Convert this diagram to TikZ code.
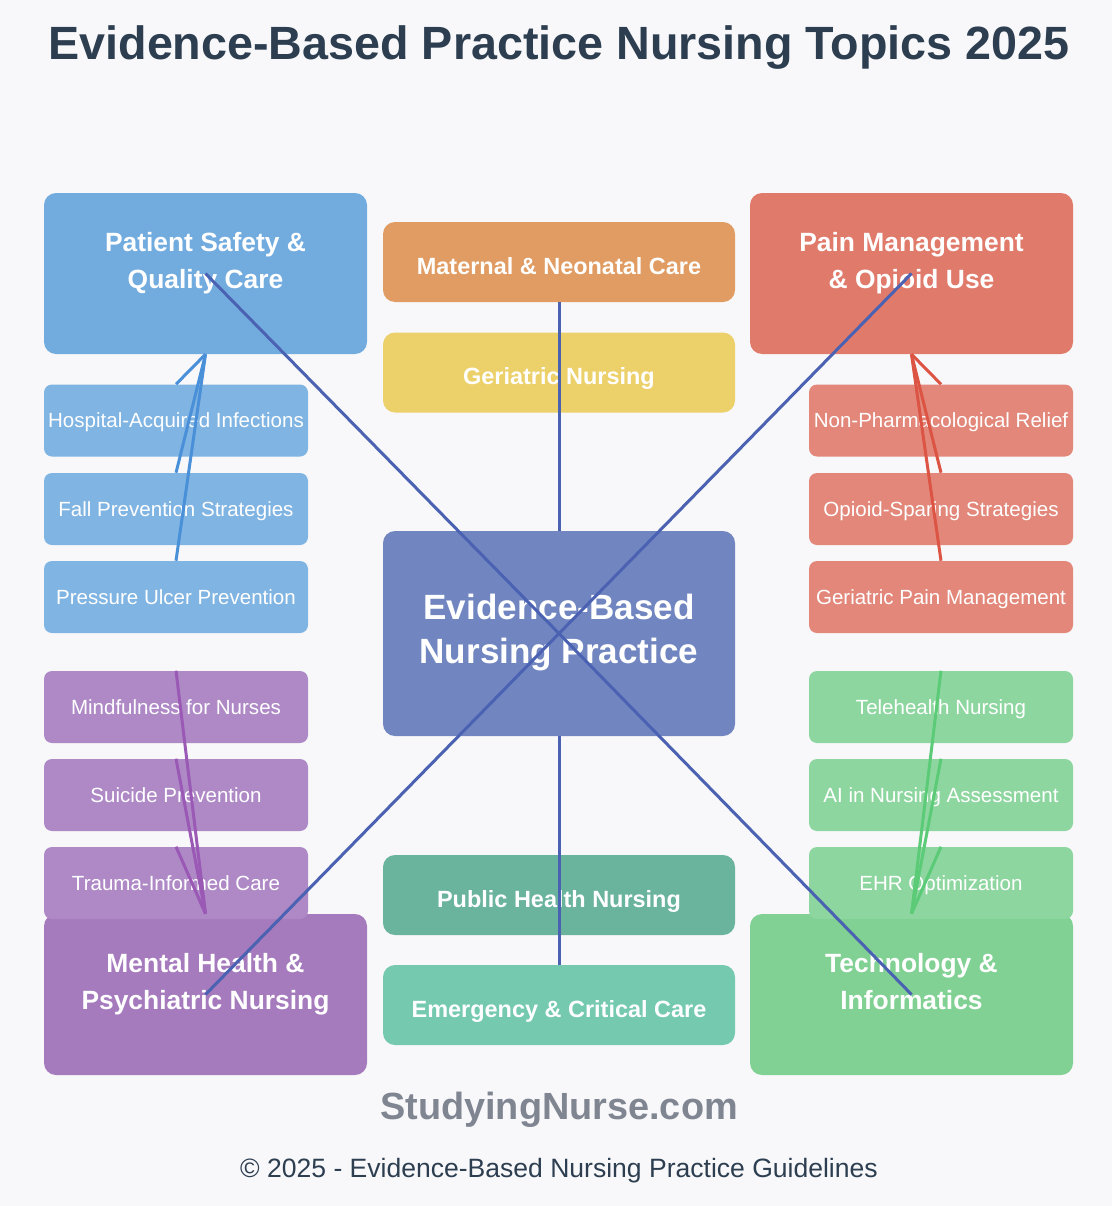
\documentclass[tikz,border=0pt]{standalone}
\usepackage{fontspec}
\setmainfont{Liberation Sans}
\definecolor{bg}{HTML}{F8F8FA}
\definecolor{titlec}{HTML}{2C3E50}
\definecolor{footc}{HTML}{7F8591}
\definecolor{psmain}{HTML}{72ACDF}
\definecolor{pssub}{HTML}{80B4E2}
\definecolor{psline}{HTML}{4A90D9}
\definecolor{pmmain}{HTML}{E07A6B}
\definecolor{pmsub}{HTML}{E2877A}
\definecolor{pmline}{HTML}{DC5443}
\definecolor{mhmain}{HTML}{A57BBD}
\definecolor{mhsub}{HTML}{AE89C6}
\definecolor{mhline}{HTML}{9B59B6}
\definecolor{tcmain}{HTML}{80D193}
\definecolor{tcsub}{HTML}{8ED6A0}
\definecolor{tcline}{HTML}{5CCB78}
\definecolor{matc}{HTML}{E09C62}
\definecolor{gerc}{HTML}{ECD06A}
\definecolor{hubc}{HTML}{7186C1}
\definecolor{pubc}{HTML}{6AB39D}
\definecolor{emc}{HTML}{74C9AF}
\definecolor{hubline}{HTML}{4B62B3}
\tikzset{
  box/.style={draw=none, rounded corners=9pt, inner sep=0pt},
  cornerbox/.style={box, minimum width=242.25pt, minimum height=120.75pt},
  midbox/.style={box, minimum width=264pt, minimum height=60pt, text=white,
    font=\bfseries\fontsize{17.6}{21}\selectfont, text height=18.6pt, text depth=0pt},
  subbox/.style={box, rounded corners=6pt, minimum width=198pt, minimum height=54pt, text=white,
    font=\fontsize{15.4}{18}\selectfont, text height=11pt, text depth=0pt},
  cornertext/.style={text=white, align=center, inner sep=0pt,
    font=\bfseries\fontsize{19.8}{27.75}\selectfont},
  hubtext/.style={text=white, align=center, inner sep=0pt,
    font=\bfseries\fontsize{26.3}{33}\selectfont},
  hubedge/.style={draw=hubline, line width=2.25pt},
  subedge/.style={line width=2.25pt}
}
\begin{document}
\begin{tikzpicture}[x=0.75pt, y=-0.75pt]
\useasboundingbox[fill=bg] (0,0) rectangle (1112,1206);
% title
\node[text=titlec, font=\bfseries\fontsize{35}{42}\selectfont] (title) at (559,48) {Evidence-Based Practice Nursing Topics 2025};
% corner boxes
\node[cornerbox, fill=psmain] (ps) at (205.5,273.5) {};
\node[cornertext] (pst) at (205.5,263.5) {Patient Safety \&\\Quality Care};
\node[cornerbox, fill=pmmain] (pm) at (911.5,273.5) {};
\node[cornertext] (pmt) at (911.5,263.5) {Pain Management\\\& Opioid Use};
\node[cornerbox, fill=mhmain] (mh) at (205.5,994.5) {};
\node[cornertext] (mht) at (205.5,984.5) {Mental Health \&\\Psychiatric Nursing};
\node[cornerbox, fill=tcmain] (tc) at (911.5,994.5) {};
\node[cornertext] (tct) at (911.5,981.5) {Technology \&\\Informatics};
% middle column
\node[midbox, fill=matc] (mat) at (559,262) {Maternal \& Neonatal Care};
\node[midbox, fill=gerc] (ger) at (559,372.5) {Geriatric Nursing};
\node[box, fill=hubc, minimum width=264pt, minimum height=153.75pt] (hub) at (559,633.5) {};
\node[hubtext] (hubt) at (559,633) {Evidence-Based\\Nursing Practice};
\node[midbox, fill=pubc] (pub) at (559,895) {Public Health Nursing};
\node[midbox, fill=emc] (em) at (559,1005) {Emergency \& Critical Care};
% subtopics
\node[subbox, fill=pssub] (ps1) at (176,420.5) {Hospital-Acquired Infections};
\node[subbox, fill=pssub] (ps2) at (176,509) {Fall Prevention Strategies};
\node[subbox, fill=pssub] (ps3) at (176,597) {Pressure Ulcer Prevention};
\node[subbox, fill=pmsub] (pm1) at (941,420.5) {Non-Pharmacological Relief};
\node[subbox, fill=pmsub] (pm2) at (941,509) {Opioid-Sparing Strategies};
\node[subbox, fill=pmsub] (pm3) at (941,597) {Geriatric Pain Management};
\node[subbox, fill=mhsub] (mh1) at (176,707) {Mindfulness for Nurses};
\node[subbox, fill=mhsub] (mh2) at (176,795) {Suicide Prevention};
\node[subbox, fill=mhsub] (mh3) at (176,883) {Trauma-Informed Care};
\node[subbox, fill=tcsub] (tc1) at (941,707) {Telehealth Nursing};
\node[subbox, fill=tcsub] (tc2) at (941,795) {AI in Nursing Assessment};
\node[subbox, fill=tcsub] (tc3) at (941,883) {EHR Optimization};
% hub connectors
\draw[hubedge] (hub.north) -- (mat.south);
\draw[hubedge] (hub.south) -- (em.north);
\draw[hubedge] (hub.center) -- (ps.center);
\draw[hubedge] (hub.center) -- (pm.center);
\draw[hubedge] (hub.center) -- (mh.center);
\draw[hubedge] (hub.center) -- (tc.center);
% subtopic connectors
\foreach \s in {ps1,ps2,ps3} \draw[subedge, draw=psline] (ps.south) -- (\s.north);
\foreach \s in {pm1,pm2,pm3} \draw[subedge, draw=pmline] (pm.south) -- (\s.north);
\foreach \s in {mh1,mh2,mh3} \draw[subedge, draw=mhline] (mh.north) -- (\s.north);
\foreach \s in {tc1,tc2,tc3} \draw[subedge, draw=tcline] (tc.north) -- (\s.north);
% footer
\node[text=footc, font=\bfseries\fontsize{28.4}{34}\selectfont] (site) at (559,1110) {StudyingNurse.com};
\node[text=titlec, font=\fontsize{19.9}{24}\selectfont] (copy) at (559,1171) {© 2025 - Evidence-Based Nursing Practice Guidelines};
\end{tikzpicture}
\end{document}
